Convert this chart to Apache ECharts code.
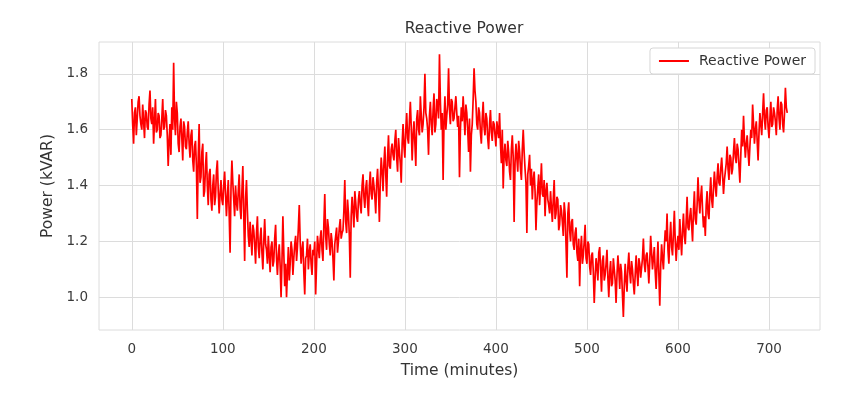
<!DOCTYPE html>
<html>
<head>
<meta charset="utf-8">
<script src="https://cdn.jsdelivr.net/npm/echarts@6/dist/echarts.min.js"></script>
<style>
  html, body { margin: 0; padding: 0; background: #fff; }
  #container { width: 863px; height: 396px; }
</style>
</head>
<body>
<div id="container"></div>
<script>
// one sample per minute, 0..720
var step = 1;
// reactive power (kVAR), 20 minutes per row
var power = [
    1.71,1.62,1.55,1.66,1.68,1.58,1.64,1.70,1.72,1.65,1.62,1.60,1.69,1.63,1.57,1.67,1.66,1.61,1.60,1.69,
    1.74,1.64,1.62,1.68,1.55,1.63,1.71,1.59,1.60,1.66,1.65,1.57,1.58,1.64,1.71,1.60,1.61,1.67,1.65,1.58,
    1.47,1.56,1.62,1.51,1.68,1.60,1.84,1.64,1.58,1.70,1.66,1.55,1.52,1.61,1.64,1.57,1.49,1.63,1.61,1.54,
    1.53,1.59,1.63,1.55,1.50,1.58,1.60,1.49,1.45,1.54,1.56,1.47,1.28,1.50,1.62,1.41,1.43,1.52,1.55,1.36,
    1.38,1.47,1.52,1.40,1.33,1.44,1.46,1.35,1.31,1.40,1.44,1.33,1.36,1.45,1.49,1.38,1.30,1.37,1.42,1.35,
    1.33,1.40,1.45,1.37,1.29,1.36,1.42,1.30,1.16,1.39,1.49,1.41,1.35,1.29,1.40,1.34,1.31,1.38,1.44,1.32,
    1.28,1.38,1.47,1.30,1.13,1.35,1.42,1.31,1.22,1.18,1.27,1.21,1.15,1.26,1.24,1.19,1.12,1.23,1.29,1.18,
    1.14,1.21,1.25,1.16,1.10,1.20,1.28,1.19,1.17,1.12,1.22,1.15,1.09,1.18,1.20,1.11,1.13,1.21,1.26,1.14,
    1.08,1.15,1.19,1.11,1.00,1.13,1.29,1.16,1.04,1.12,1.00,1.09,1.18,1.06,1.12,1.20,1.17,1.08,1.14,1.19,
    1.22,1.13,1.18,1.25,1.33,1.20,1.12,1.17,1.20,1.09,1.01,1.14,1.15,1.21,1.10,1.16,1.19,1.12,1.08,1.17,
    1.15,1.20,1.01,1.12,1.22,1.18,1.14,1.21,1.24,1.17,1.13,1.26,1.37,1.22,1.17,1.28,1.25,1.19,1.15,1.23,
    1.20,1.14,1.06,1.19,1.22,1.25,1.16,1.20,1.25,1.28,1.21,1.23,1.24,1.31,1.42,1.27,1.23,1.35,1.30,1.22,
    1.07,1.29,1.36,1.31,1.25,1.38,1.34,1.29,1.27,1.35,1.38,1.33,1.30,1.40,1.44,1.36,1.32,1.39,1.42,1.34,
    1.29,1.40,1.45,1.37,1.35,1.43,1.40,1.36,1.30,1.41,1.46,1.38,1.27,1.42,1.50,1.45,1.38,1.48,1.54,1.44,
    1.36,1.50,1.58,1.47,1.46,1.53,1.55,1.51,1.49,1.56,1.60,1.50,1.45,1.57,1.52,1.48,1.41,1.55,1.62,1.54,
    1.50,1.60,1.66,1.57,1.55,1.63,1.70,1.61,1.49,1.58,1.63,1.55,1.47,1.64,1.67,1.60,1.58,1.72,1.65,1.59,
    1.62,1.68,1.80,1.66,1.64,1.60,1.51,1.65,1.70,1.62,1.58,1.67,1.73,1.59,1.62,1.71,1.69,1.64,1.87,1.70,
    1.60,1.66,1.42,1.63,1.72,1.60,1.65,1.69,1.82,1.67,1.62,1.71,1.70,1.63,1.64,1.68,1.72,1.66,1.61,1.65,
    1.43,1.60,1.68,1.63,1.72,1.65,1.58,1.69,1.66,1.60,1.52,1.64,1.45,1.58,1.62,1.71,1.82,1.74,1.70,1.62,
    1.60,1.68,1.66,1.59,1.55,1.64,1.70,1.61,1.58,1.66,1.64,1.57,1.53,1.62,1.67,1.59,1.56,1.63,1.62,1.58,
    1.54,1.63,1.60,1.57,1.66,1.55,1.48,1.60,1.39,1.51,1.55,1.49,1.47,1.56,1.52,1.45,1.42,1.53,1.58,1.50,
    1.27,1.48,1.55,1.50,1.45,1.56,1.52,1.46,1.42,1.53,1.60,1.52,1.46,1.41,1.23,1.44,1.47,1.51,1.40,1.46,
    1.35,1.42,1.45,1.38,1.24,1.34,1.39,1.44,1.33,1.40,1.48,1.37,1.36,1.42,1.29,1.38,1.41,1.35,1.33,1.30,
    1.38,1.32,1.27,1.35,1.42,1.28,1.30,1.36,1.35,1.24,1.26,1.33,1.31,1.27,1.22,1.34,1.30,1.19,1.07,1.30,
    1.34,1.24,1.20,1.27,1.28,1.19,1.17,1.23,1.25,1.16,1.13,1.21,1.04,1.17,1.22,1.12,1.15,1.20,1.26,1.14,
    1.12,1.20,1.19,1.11,1.08,1.15,1.16,1.09,0.98,1.07,1.14,1.11,1.06,1.16,1.18,1.10,1.02,1.13,1.15,1.06,
    1.08,1.12,1.17,1.07,1.00,1.09,1.13,1.04,1.05,1.14,1.10,1.06,0.98,1.08,1.15,1.10,1.03,1.12,1.09,1.01,
    0.93,1.04,1.12,1.06,1.02,1.11,1.16,1.09,1.05,1.13,1.10,1.05,1.01,1.08,1.15,1.09,1.04,1.14,1.12,1.07,
    1.07,1.14,1.21,1.12,1.09,1.15,1.16,1.11,1.05,1.13,1.22,1.16,1.10,1.14,1.18,1.09,1.03,1.12,1.20,1.08,
    0.97,1.11,1.19,1.14,1.10,1.18,1.24,1.20,1.30,1.17,1.12,1.21,1.27,1.18,1.15,1.23,1.31,1.20,1.13,1.19,
    1.22,1.17,1.28,1.21,1.15,1.24,1.30,1.22,1.19,1.27,1.36,1.25,1.24,1.29,1.32,1.26,1.20,1.31,1.38,1.28,
    1.26,1.33,1.43,1.35,1.30,1.36,1.40,1.31,1.25,1.29,1.22,1.33,1.38,1.30,1.28,1.37,1.43,1.35,1.32,1.39,
    1.45,1.40,1.36,1.43,1.48,1.41,1.40,1.46,1.50,1.44,1.37,1.42,1.45,1.48,1.54,1.46,1.42,1.51,1.50,1.44,
    1.46,1.52,1.57,1.50,1.48,1.55,1.53,1.47,1.41,1.51,1.60,1.54,1.65,1.56,1.50,1.55,1.58,1.52,1.47,1.54,
    1.60,1.57,1.69,1.62,1.55,1.60,1.63,1.56,1.49,1.59,1.66,1.62,1.58,1.66,1.73,1.64,1.60,1.67,1.68,1.61,
    1.57,1.64,1.70,1.61,1.62,1.68,1.66,1.63,1.58,1.67,1.72,1.64,1.60,1.70,1.69,1.62,1.59,1.66,1.75,1.68,
    1.66
];
var xTicks = [0, 100, 200, 300, 400, 500, 600, 700];
var yTicks = [1.0, 1.2, 1.4, 1.6, 1.8];

var seriesData = [];
for (var i = 0; i < power.length; i++) {
    seriesData.push([i * step, power[i]]);
}

var myChart = echarts.init(document.getElementById('container'));
var font = 'DejaVu Sans';
var gridColor = '#dcdcdc';

var option = {
    animation: false,
    backgroundColor: '#ffffff',
    title: {
        text: 'Reactive Power',
        left: 459,
        textAlign: 'center',
        top: 16,
        textStyle: { fontFamily: font, fontSize: 15.5, fontWeight: 'normal', color: '#333' }
    },
    legend: {
        right: 48,
        top: 48,
        data: ['Reactive Power'],
        icon: 'rect',
        itemWidth: 30,
        itemHeight: 2,
        padding: [6, 9, 6, 9],
        borderColor: '#d6d6d6',
        borderWidth: 1,
        borderRadius: 3,
        backgroundColor: '#fff',
        textStyle: { fontFamily: font, fontSize: 14, color: '#333', padding: [0, 0, 0, 5] }
    },
    grid: {
        left: 99,
        right: 43,
        top: 42,
        bottom: 66,
        show: true,
        borderColor: gridColor,
        borderWidth: 1
    },
    xAxis: {
        type: 'value',
        min: -36,
        max: 756,
        name: 'Time (minutes)',
        nameLocation: 'middle',
        nameGap: 33,
        nameTextStyle: { fontFamily: font, fontSize: 15.5, color: '#333' },
        axisLine: { show: false },
        axisTick: { show: false, customValues: xTicks },
        axisLabel: { customValues: xTicks, fontFamily: font, fontSize: 13.5, color: '#3a3a3a', margin: 12 },
        splitLine: { show: true, lineStyle: { color: gridColor, width: 1 } }
    },
    yAxis: {
        type: 'value',
        min: 0.883,
        max: 1.914,
        name: 'Power (kVAR)',
        nameLocation: 'middle',
        nameGap: 39,
        nameRotate: 90,
        nameTextStyle: { fontFamily: font, fontSize: 15.5, color: '#333' },
        axisLine: { show: false },
        axisTick: { show: false, customValues: yTicks },
        axisLabel: {
            customValues: yTicks,
            fontFamily: font, fontSize: 13.5, color: '#3a3a3a', margin: 11,
            formatter: function (v) { return v.toFixed(1); }
        },
        splitLine: { show: true, lineStyle: { color: gridColor, width: 1 } }
    },
    series: [
        {
            name: 'Reactive Power',
            type: 'line',
            color: '#ff0000',
            showSymbol: false,
            symbol: 'none',
            lineStyle: { width: 1.7, color: '#ff0000' },
            data: seriesData
        }
    ]
};
myChart.setOption(option);
</script>
</body>
</html>
